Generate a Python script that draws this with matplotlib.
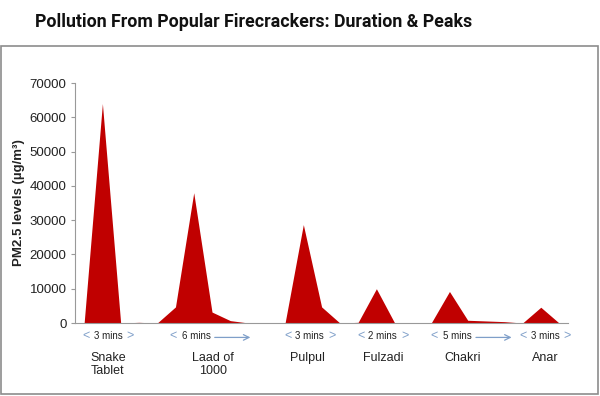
import numpy as np
import matplotlib
matplotlib.use('Agg')
import matplotlib.pyplot as plt
from matplotlib.patches import Rectangle

plt.rcParams['font.family'] = ['Liberation Sans', 'DejaVu Sans']

# PM2.5 readings, one per time step (area series)
pm25 = [0, 64000, 0, 200, 0, 4700, 38000, 3200, 700, 0, 0, 0,
        28700, 4700, 0, 200, 10000, 0, 0, 0, 9200, 800, 600, 400, 0,
        4600, 0]

crackers = ['Snake\nTablet', 'Laad of\n1000', 'Pulpul', 'Fulzadi', 'Chakri', 'Anar']
durations = ['3 mins', '6 mins', '3 mins', '2 mins', '5 mins', '3 mins']
long_arrow = [False, True, False, False, True, False]

# label placement along the step axis
name_pos = [1.3, 7.05, 12.25, 16.4, 20.7, 25.25]
dur_pos = [1.3, 6.6, 12.35, 16.35, 20.9, 25.25]

red = '#c00000'
arrow_col = '#7f9fc9'
txt_col = '#222222'

fig = plt.figure(figsize=(6, 3.96), dpi=100)
ax = fig.add_axes([0.125, 0.1843, 0.822, 0.6061])

x = np.arange(len(pm25))
ax.fill_between(x, pm25, 0, color=red, linewidth=0)

ax.set_xlim(-0.5, len(pm25) - 0.5)
ax.set_ylim(0, 70000)
ax.set_yticks(np.arange(0, 70001, 10000))
ax.set_xticks([])
for s in ['top', 'right']:
    ax.spines[s].set_visible(False)
for s in ['left', 'bottom']:
    ax.spines[s].set_color('#999999')
    ax.spines[s].set_linewidth(0.8)
ax.tick_params(axis='y', length=3, color='#999999', labelsize=9.5,
               labelcolor=txt_col, pad=3)
ax.set_ylabel('PM2.5 levels (µg/m³)', fontsize=9.5, fontweight='bold',
              color=txt_col)
ax.yaxis.set_label_coords(-0.101, 0.5)

# duration markers under the axis
trans = ax.get_xaxis_transform()
for p, d, lng in zip(dur_pos, durations, long_arrow):
    if lng:
        ax.text(p - 0.45, -0.055, d, transform=trans, ha='center', va='center',
                fontsize=7, color=txt_col)
        ax.text(p - 1.75, -0.055, '<', transform=trans, ha='center', va='center',
                fontsize=9, color=arrow_col)
        ax.annotate('', xy=(p + 2.5, -0.06), xytext=(p + 0.55, -0.06),
                    xycoords=trans, textcoords=trans,
                    arrowprops=dict(arrowstyle='->', color=arrow_col, lw=0.9,
                                    shrinkA=0, shrinkB=0),
                    annotation_clip=False)
    else:
        ax.text(p, -0.055, d, transform=trans, ha='center', va='center',
                fontsize=7, color=txt_col)
        ax.text(p - 1.2, -0.055, '<', transform=trans, ha='center', va='center',
                fontsize=9, color=arrow_col)
        ax.text(p + 1.2, -0.055, '>', transform=trans, ha='center', va='center',
                fontsize=9, color=arrow_col)

for p, n in zip(name_pos, crackers):
    ax.text(p, -0.12, n, transform=trans, ha='center', va='top',
            fontsize=9, color=txt_col, linespacing=1.15)

# frame around the chart body
fig.patches.append(Rectangle((0.002, 0.006), 0.994, 0.877, transform=fig.transFigure,
                             fill=False, edgecolor='#8c8c8c', linewidth=1.2))

fig.text(0.423, 0.944, 'Pollution From Popular Firecrackers: Duration & Peaks',
         ha='center', va='center', fontsize=12.8, fontweight='bold',
         family=['Roboto', 'DejaVu Sans'], color='#111111')

fig.savefig('out.png', dpi=100)
